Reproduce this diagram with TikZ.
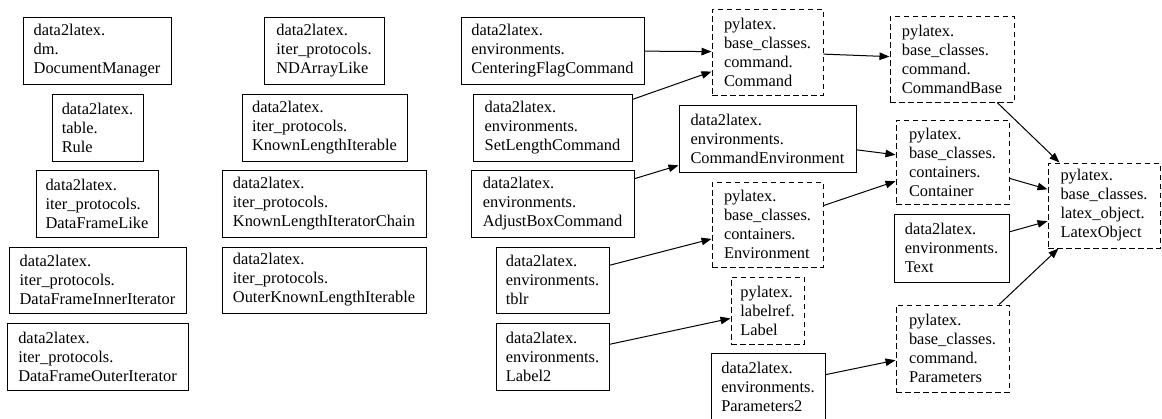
\documentclass[tikz,border=0pt]{standalone}
\usepackage{fontspec}
\setmainfont{Liberation Serif}
\newfontfamily\boxfont{Liberation Serif}
\usetikzlibrary{arrows.meta}
\tikzset{
  nodebox/.style={draw=black, line width=1pt, align=left, inner sep=0pt,
    font=\boxfont\fontsize{16.4}{19}\selectfont},
  solidbox/.style={nodebox},
  dashbox/.style={nodebox, dash pattern=on 5.5pt off 3.5pt},
  edge/.style={draw=black, line width=1pt, -{Triangle[length=10pt,width=7.5pt]}},
}
\newcommand{\bx}[7]{\node[#1, minimum width=#5pt, minimum height=#6pt] (#2) at (#3,#4) {#7};}
\begin{document}
\begin{tikzpicture}[x=1pt,y=-1pt]
\useasboundingbox (0,0) rectangle (1162,418);
% column 1
\bx{solidbox}{dm}{97}{50.5}{148}{67}{data2latex.\\dm.\\DocumentManager}
\bx{solidbox}{rule}{97.5}{127.5}{91}{67}{data2latex.\\table.\\Rule}
\bx{solidbox}{dfl}{97}{203.5}{122}{67}{data2latex.\\iter\_protocols.\\DataFrameLike}
\bx{solidbox}{dfii}{97.5}{280}{177}{66}{data2latex.\\iter\_protocols.\\DataFrameInnerIterator}
\bx{solidbox}{dfoi}{97.5}{356.5}{181}{67}{data2latex.\\iter\_protocols.\\DataFrameOuterIterator}
% column 2
\bx{solidbox}{nda}{324}{50.5}{120}{67}{data2latex.\\iter\_protocols.\\NDArrayLike}
\bx{solidbox}{kli}{324.5}{127.5}{165}{67}{data2latex.\\iter\_protocols.\\KnownLengthIterable}
\bx{solidbox}{klic}{324}{203.5}{204}{67}{data2latex.\\iter\_protocols.\\KnownLengthIteratorChain}
\bx{solidbox}{okli}{324}{280}{204}{66}{data2latex.\\iter\_protocols.\\OuterKnownLengthIterable}
% column 3
\bx{solidbox}{cfc}{552.5}{50.5}{183}{67}{data2latex.\\environments.\\CenteringFlagCommand}
\bx{solidbox}{slc}{552.5}{127.5}{159}{67}{data2latex.\\environments.\\SetLengthCommand}
\bx{solidbox}{abc}{552.5}{203.5}{163}{67}{data2latex.\\environments.\\AdjustBoxCommand}
\bx{solidbox}{tblr}{552.5}{280}{113}{66}{data2latex.\\environments.\\tblr}
\bx{solidbox}{lbl2}{552.5}{356.5}{113}{67}{data2latex.\\environments.\\Label2}
% column 4
\bx{dashbox}{cmd}{767.5}{52}{111}{86}{pylatex.\\base\_classes.\\command.\\Command}
\bx{solidbox}{cenv}{767.5}{138.5}{177}{67}{data2latex.\\environments.\\CommandEnvironment}
\bx{dashbox}{env}{767.5}{224.5}{111}{85}{pylatex.\\base\_classes.\\containers.\\Environment}
\bx{dashbox}{lbl}{767.5}{310.5}{73}{67}{pylatex.\\labelref.\\Label}
\bx{solidbox}{par2}{768}{386.5}{114}{67}{data2latex.\\environments.\\Parameters2}
% column 5
\bx{dashbox}{cbase}{952}{59}{124}{86}{pylatex.\\base\_classes.\\command.\\CommandBase}
\bx{dashbox}{cont}{952.5}{162}{113}{84}{pylatex.\\base\_classes.\\containers.\\Container}
\bx{solidbox}{text}{951.5}{248}{115}{68}{data2latex.\\environments.\\Text}
\bx{dashbox}{par}{952.5}{348.5}{113}{87}{pylatex.\\base\_classes.\\command.\\Parameters}
% column 6
\bx{dashbox}{lo}{1104}{205.5}{112}{85}{pylatex.\\base\_classes.\\latex\_object.\\LatexObject}
% edges
\draw[edge] (cfc) -- (cmd);
\draw[edge] (slc) -- (cmd);
\draw[edge] (abc) -- (cenv);
\draw[edge] (tblr) -- (env);
\draw[edge] (lbl2) -- (lbl);
\draw[edge] (cmd) -- (cbase);
\draw[edge] (cenv) -- (cont);
\draw[edge] (env) -- (cont);
\draw[edge] (par2) -- (par);
\draw[edge] (cbase) -- (lo);
\draw[edge] (cont) -- (lo);
\draw[edge] (text) -- (lo);
\draw[edge] (par) -- (lo);
\end{tikzpicture}
\end{document}
